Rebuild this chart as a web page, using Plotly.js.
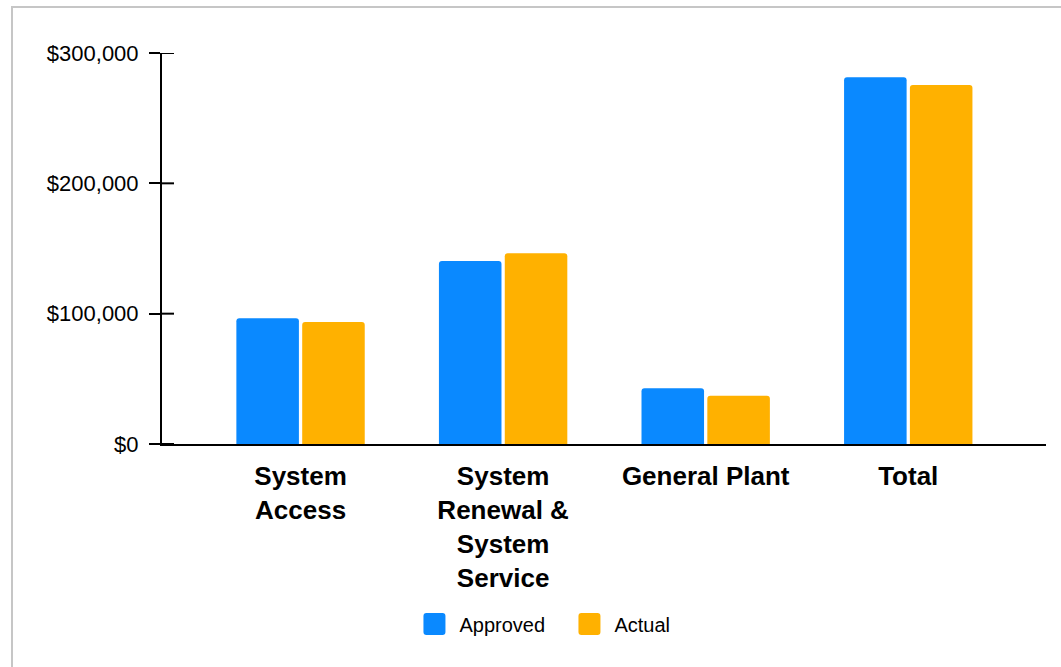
<!DOCTYPE html>
<html>
<head>
<meta charset="utf-8">
<script src="https://cdn.plot.ly/plotly-3.0.1.min.js"></script>
<style>
  html, body { margin: 0; padding: 0; background: #fff; overflow: hidden; }
  #frame { position: absolute; left: 11px; top: 6px; width: 1200px; height: 800px;
           border-left: 2px solid #c6c6c6; border-top: 2px solid #c6c6c6; pointer-events: none; z-index: 5; }
  #chart { position: absolute; left: 0; top: 0; width: 1061px; height: 667px; }
</style>
</head>
<body>
<div id="chart"></div>
<div id="frame"></div>
<script>
const categories = ['System Access', 'System Renewal & System Service', 'General Plant', 'Total'];
const tickLabels = ['System<br>Access', 'System<br>Renewal &<br>System<br>Service', 'General Plant', 'Total'];
const approved = [96500, 140400, 42700, 281400];
const actual = [93600, 146300, 37000, 275400];
const seriesNames = ['Approved', 'Actual'];
const yTicks = [0, 100000, 200000, 300000];
const yTickText = ['$0', '$100,000', '$200,000', '$300,000'];

const FONT = 'Arial, "Liberation Sans", sans-serif';
const BLUE = '#0a89ff';
const ORANGE = '#ffb100';

const traces = [
  { type: 'bar', name: seriesNames[0], x: categories, y: approved,
    marker: { color: BLUE, line: { width: 0 } }, hoverinfo: 'skip' },
  { type: 'bar', name: seriesNames[1], x: categories, y: actual,
    marker: { color: ORANGE, line: { width: 0 } }, hoverinfo: 'skip' }
];

// inner half of the y-axis tick marks (ticks cross the axis line)
const innerTicks = yTicks.map(function (v) {
  return { type: 'line', xref: 'paper', yref: 'y', x0: 0, x1: 12 / 884, y0: v, y1: v,
           line: { color: '#000', width: 2 }, layer: 'above' };
});

const layout = {
  width: 1061, height: 667,
  margin: { l: 162, r: 15, t: 53, b: 223 },
  paper_bgcolor: '#fff', plot_bgcolor: '#fff',
  font: { family: FONT, color: '#000' },
  barmode: 'group', bargap: 0.35, bargroupgap: 0.05, barcornerradius: 3,
  showlegend: true,
  legend: {
    orientation: 'h', xref: 'container', yref: 'container',
    x: 0.532, xanchor: 'center', y: 1 - 624 / 667, yanchor: 'middle',
    font: { family: FONT, size: 20, color: '#000' }, itemwidth: 40,
    entrywidth: 100, entrywidthmode: 'pixels',
    traceorder: 'normal'
  },
  shapes: innerTicks,
  xaxis: {
    type: 'category', range: [-0.684, 3.68],
    tickmode: 'array', tickvals: categories, ticktext: tickLabels,
    tickfont: { family: FONT, size: 26, color: '#000', weight: 'bold' },
    showline: true, linecolor: '#000', linewidth: 2,
    ticks: '', showgrid: false, zeroline: false, ticklabelstandoff: 8,
    fixedrange: true
  },
  yaxis: {
    range: [0, 300000], tickmode: 'array', tickvals: yTicks, ticktext: yTickText,
    tickfont: { family: FONT, size: 22, color: '#000' },
    showline: true, linecolor: '#000', linewidth: 2,
    ticks: 'outside', ticklen: 11, tickwidth: 2, tickcolor: '#000',
    showgrid: false, zeroline: false, ticklabelstandoff: 6, fixedrange: true
  }
};

Plotly.newPlot('chart', traces, layout, { staticPlot: true, displayModeBar: false }).then(function () {
  document.querySelectorAll('#chart .legend .legendpoints path').forEach(function (p) {
    p.setAttribute('d', 'M-11,-8A3,3 0 0 1 -8,-11H8A3,3 0 0 1 11,-8V8A3,3 0 0 1 8,11H-8A3,3 0 0 1 -11,8Z');
  });
});
</script>
</body>
</html>
